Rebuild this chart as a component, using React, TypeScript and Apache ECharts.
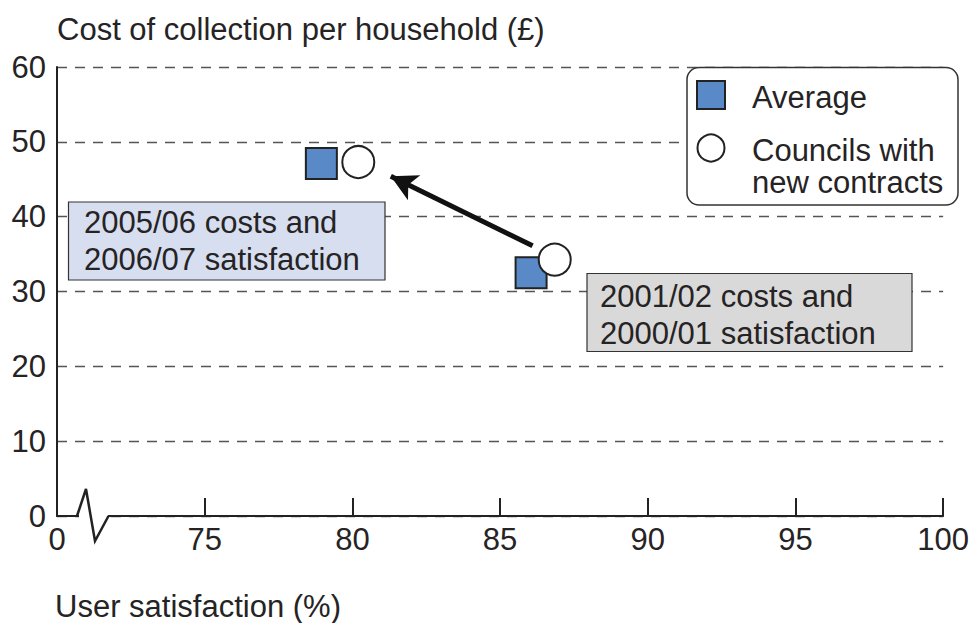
import React, { useEffect, useRef } from "react";
import * as echarts from "echarts";

// ---- data ----
const seriesNames = ["Average", "Councils with new contracts"];
const legendLabels = ["Average", "Councils with\nnew contracts"];
// [user satisfaction %, cost per household £]
const averagePoints = [
  [78.95, 47.1],
  [86.05, 32.5],
];
const councilPoints = [
  [80.2, 47.3],
  [86.85, 34.25],
];
const arrowFrom = [86.1, 36.1];
const arrowTo = [81.3, 45.4];
const annotations = [
  "2005/06 costs and\n2006/07 satisfaction",
  "2001/02 costs and\n2000/01 satisfaction",
];
const xAxisTitle = "User satisfaction (%)";
const yAxisTitle = "Cost of collection per household (£)";
const xMin = 70; // axis is broken: shown as 0
const xMax = 100;
const xStep = 5;
const yMin = 0;
const yMax = 60;
const yStep = 10;

const FONT = "Liberation Sans, Arial, Helvetica, sans-serif";
const FS = 31;
const TEXT = "#262324";
const DARK = "#222222";
const SQUARE_FILL = "#5a89c8";

export default function App() {
  const ref = useRef<HTMLDivElement>(null);

  useEffect(() => {
    document.body.style.margin = "0";
    const chart = echarts.init(ref.current as HTMLDivElement, null, {
      renderer: "svg",
    });

    const option: any = {
      animation: false,
      backgroundColor: "#ffffff",
      textStyle: { fontFamily: FONT, color: TEXT },
      grid: { left: 57, right: 15, top: 67, bottom: 107, containLabel: false },
      xAxis: {
        type: "value",
        min: xMin,
        max: xMax,
        interval: xStep,
        axisLine: { show: true, lineStyle: { color: DARK, width: 2 } },
        axisTick: {
          show: true,
          inside: true,
          length: 18,
          lineStyle: { color: DARK, width: 2 },
        },
        splitLine: { show: false },
        axisLabel: {
          fontSize: FS,
          fontFamily: FONT,
          color: TEXT,
          margin: 8,
          showMinLabel: true,
          showMaxLabel: true,
          formatter: (v: number) => (v === xMin ? "0" : String(v)),
        },
      },
      yAxis: {
        type: "value",
        min: yMin,
        max: yMax,
        interval: yStep,
        axisLine: { show: true, lineStyle: { color: DARK, width: 2 } },
        axisTick: { show: false },
        splitLine: {
          show: true,
          lineStyle: { color: "#555555", width: 1.3, type: [10, 8] },
        },
        axisLabel: {
          fontSize: FS,
          fontFamily: FONT,
          color: TEXT,
          margin: 11,
        },
      },
      series: [
        {
          name: seriesNames[0],
          type: "scatter",
          symbol: "rect",
          symbolSize: 31,
          itemStyle: {
            color: SQUARE_FILL,
            borderColor: DARK,
            borderWidth: 2,
            opacity: 1,
          },
          data: averagePoints,
          z: 3,
          silent: true,
        },
        {
          name: seriesNames[1],
          type: "scatter",
          symbol: "circle",
          symbolSize: 32,
          itemStyle: {
            color: "#ffffff",
            borderColor: DARK,
            borderWidth: 2,
            opacity: 1,
          },
          data: councilPoints,
          z: 4,
          silent: true,
          markLine: {
            silent: true,
            symbol: ["none", "arrow"],
            symbolSize: [21, 26],
            label: { show: false },
            lineStyle: { color: "#111111", width: 5, type: "solid" },
            emphasis: { disabled: true },
            data: [[{ coord: arrowFrom }, { coord: arrowTo }]],
          },
        },
      ],
      graphic: [
        // axis break zig-zag
        {
          type: "rect",
          z: 100,
          shape: { x: 79, y: 512, width: 29, height: 8 },
          style: { fill: "#ffffff" },
        },
        {
          type: "polyline",
          z: 101,
          shape: {
            points: [
              [77, 516],
              [86, 489],
              [95, 541],
              [108.5, 516],
            ],
          },
          style: { stroke: DARK, lineWidth: 2.5, fill: null },
        },
        // axis titles
        {
          type: "text",
          z: 100,
          x: 57,
          y: 29,
          style: {
            text: yAxisTitle,
            font: `${FS}px ${FONT}`,
            fill: TEXT,
            verticalAlign: "middle",
          },
        },
        {
          type: "text",
          z: 100,
          x: 55,
          y: 606,
          style: {
            text: xAxisTitle,
            font: `${FS}px ${FONT}`,
            fill: TEXT,
            verticalAlign: "middle",
          },
        },
        // legend
        {
          type: "rect",
          z: 100,
          shape: { x: 687, y: 67.5, width: 271, height: 137.5, r: 12 },
          style: { fill: "#ffffff", stroke: "#333333", lineWidth: 1.5 },
        },
        {
          type: "rect",
          z: 101,
          shape: { x: 697, y: 81, width: 28, height: 28 },
          style: { fill: SQUARE_FILL, stroke: DARK, lineWidth: 2 },
        },
        {
          type: "text",
          z: 101,
          x: 752,
          y: 97,
          style: {
            text: legendLabels[0],
            font: `${FS}px ${FONT}`,
            fill: TEXT,
            verticalAlign: "middle",
          },
        },
        {
          type: "circle",
          z: 101,
          shape: { cx: 711, cy: 148, r: 13.5 },
          style: { fill: "#ffffff", stroke: DARK, lineWidth: 2 },
        },
        {
          type: "text",
          z: 101,
          x: 752,
          y: 134,
          style: {
            text: legendLabels[1],
            font: `${FS}px ${FONT}`,
            lineHeight: 32,
            fill: TEXT,
            verticalAlign: "top",
          },
        },
        // annotation boxes
        {
          type: "rect",
          z: 100,
          shape: { x: 68.5, y: 202, width: 316.5, height: 78 },
          style: { fill: "#d7deef", stroke: "#333333", lineWidth: 1.2 },
        },
        {
          type: "text",
          z: 101,
          x: 84,
          y: 204,
          style: {
            text: annotations[0],
            font: `${FS}px ${FONT}`,
            lineHeight: 37,
            fill: TEXT,
            verticalAlign: "top",
          },
        },
        {
          type: "rect",
          z: 100,
          shape: { x: 587, y: 273.5, width: 325, height: 78 },
          style: { fill: "#d9d9d9", stroke: "#333333", lineWidth: 1.2 },
        },
        {
          type: "text",
          z: 101,
          x: 600,
          y: 277.5,
          style: {
            text: annotations[1],
            font: `${FS}px ${FONT}`,
            lineHeight: 37,
            fill: TEXT,
            verticalAlign: "top",
          },
        },
      ],
    };

    chart.setOption(option);
    return () => chart.dispose();
  }, []);

  return (
    <div
      ref={ref}
      style={{ position: "fixed", left: 0, top: 0, width: 972, height: 623 }}
    />
  );
}
